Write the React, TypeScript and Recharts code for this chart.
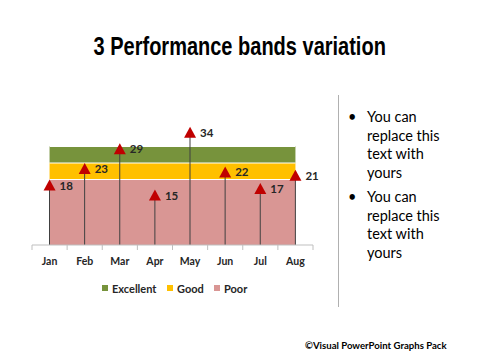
import React from 'react';
import { ComposedChart, Area, Bar, Line, XAxis, YAxis } from 'recharts';

const months = ['Jan', 'Feb', 'Mar', 'Apr', 'May', 'Jun', 'Jul', 'Aug'];
const values = [18, 23, 29, 15, 34, 22, 17, 21];
const poorBand = [20, 20, 20, 20, 20, 20, 20, 20];
const goodBand = [5, 5, 5, 5, 5, 5, 5, 5];
const excellentBand = [5, 5, 5, 5, 5, 5, 5, 5];

const data = months.map((m, i) => ({
  month: m,
  value: values[i],
  poor: poorBand[i],
  good: goodBand[i],
  excellent: excellentBand[i],
}));

const COLORS = {
  excellent: '#77933C',
  good: '#FFC000',
  poor: '#D99694',
  marker: '#C00000',
  stem: '#404040',
  axis: '#BFBFBF',
};

const FONT = 'Lato, "Open Sans", sans-serif';
const CHART_W = 330;
const CHART_H = 300;
const MARGIN = { top: 113, right: 17, bottom: 25, left: 32 };
const BAND_HALF = (CHART_W - MARGIN.left - MARGIN.right) / months.length / 2;

const Tick = (props: any) => {
  const { x, y, payload, index } = props;
  const isLast = index === months.length - 1;
  return (
    <g>
      <line x1={x - BAND_HALF} x2={x - BAND_HALF} y1={y - 8} y2={y - 3} stroke={COLORS.axis} />
      {isLast && <line x1={x + BAND_HALF} x2={x + BAND_HALF} y1={y - 8} y2={y - 3} stroke={COLORS.axis} />}
      <text x={x} y={y + 12} textAnchor="middle" fontFamily={FONT} fontWeight={700} fontSize={10.5} fill="#262626">
        {payload.value}
      </text>
    </g>
  );
};

const Triangle = (props: any) => {
  const { cx, cy } = props;
  if (cx == null || cy == null) return null;
  return <polygon points={`${cx},${cy - 6} ${cx - 6},${cy + 5} ${cx + 6},${cy + 5}`} fill={COLORS.marker} />;
};

const ValueLabel = (props: any) => {
  const { x, y, value } = props;
  return (
    <text x={x + 10} y={y} dy="0.35em" fontFamily={FONT} fontWeight={700} fontSize={11.5} fill="#262626">
      {value}
    </text>
  );
};

const legendItems = [
  { label: 'Excellent', color: COLORS.excellent, left: 102 },
  { label: 'Good', color: COLORS.good, left: 167 },
  { label: 'Poor', color: COLORS.poor, left: 214 },
];

const bullets = [
  ['You can', 'replace this', 'text with', 'yours'],
  ['You can', 'replace this', 'text with', 'yours'],
];

export default function App() {
  return (
    <div style={{ position: 'absolute', left: 0, top: 0, width: 480, height: 360, background: '#fff', overflow: 'hidden' }}>
      <div style={{ position: 'absolute', left: 0, top: 31, width: 480, textAlign: 'center' }}>
        <span
          style={{
            display: 'inline-block',
            transform: 'scaleX(0.8)',
            transformOrigin: 'center',
            fontFamily: '"Liberation Sans", Arial, sans-serif',
            fontWeight: 700,
            fontSize: 25,
            lineHeight: '30px',
            color: '#000',
            whiteSpace: 'nowrap',
          }}
        >
          3 Performance bands variation
        </span>
      </div>

      <div style={{ position: 'absolute', left: 0, top: 0 }}>
        <ComposedChart width={CHART_W} height={CHART_H} data={data} margin={MARGIN}>
          <YAxis hide domain={[0, 40]} />
          <XAxis
            dataKey="month"
            height={30}
            interval={0}
            axisLine={{ stroke: COLORS.axis }}
            tickLine={false}
            tick={<Tick />}
          />
          <Area type="linear" dataKey="poor" stackId="b" fill={COLORS.poor} fillOpacity={1} stroke="#fff" strokeWidth={2} isAnimationActive={false} />
          <Area type="linear" dataKey="good" stackId="b" fill={COLORS.good} fillOpacity={1} stroke="#fff" strokeWidth={2} isAnimationActive={false} />
          <Area type="linear" dataKey="excellent" stackId="b" fill={COLORS.excellent} fillOpacity={1} stroke="#fff" strokeWidth={2} isAnimationActive={false} />
          <Bar dataKey="value" barSize={1} fill={COLORS.stem} isAnimationActive={false} />
          <Line
            dataKey="value"
            stroke="none"
            dot={<Triangle />}
            activeDot={false}
            label={<ValueLabel />}
            isAnimationActive={false}
          />
        </ComposedChart>
      </div>

      {legendItems.map((it) => (
        <div
          key={it.label}
          style={{
            position: 'absolute',
            left: it.left,
            top: 281,
            height: 14,
            display: 'flex',
            alignItems: 'center',
            fontFamily: FONT,
            fontWeight: 700,
            fontSize: 11,
            color: '#262626',
          }}
        >
          <span style={{ display: 'inline-block', width: 6, height: 6, background: it.color, marginRight: 4 }} />
          {it.label}
        </div>
      ))}

      <div style={{ position: 'absolute', left: 338, top: 95, width: 1, height: 212, background: '#B0B0B0' }} />

      <div style={{ position: 'absolute', left: 348, top: 108, fontFamily: FONT, fontSize: 14.5, lineHeight: '18.7px', color: '#000' }}>
        {bullets.map((lines, i) => (
          <div key={i} style={{ display: 'flex', marginBottom: 5 }}>
            <span style={{ width: 19 }}>•</span>
            <span>
              {lines.map((l, j) => (
                <div key={j}>{l}</div>
              ))}
            </span>
          </div>
        ))}
      </div>

      <div
        style={{
          position: 'absolute',
          left: 305,
          top: 339,
          fontFamily: FONT,
          fontWeight: 700,
          fontSize: 9.6,
          lineHeight: '14px',
          color: '#000',
        }}
      >
        ©Visual PowerPoint Graphs Pack
      </div>
    </div>
  );
}
